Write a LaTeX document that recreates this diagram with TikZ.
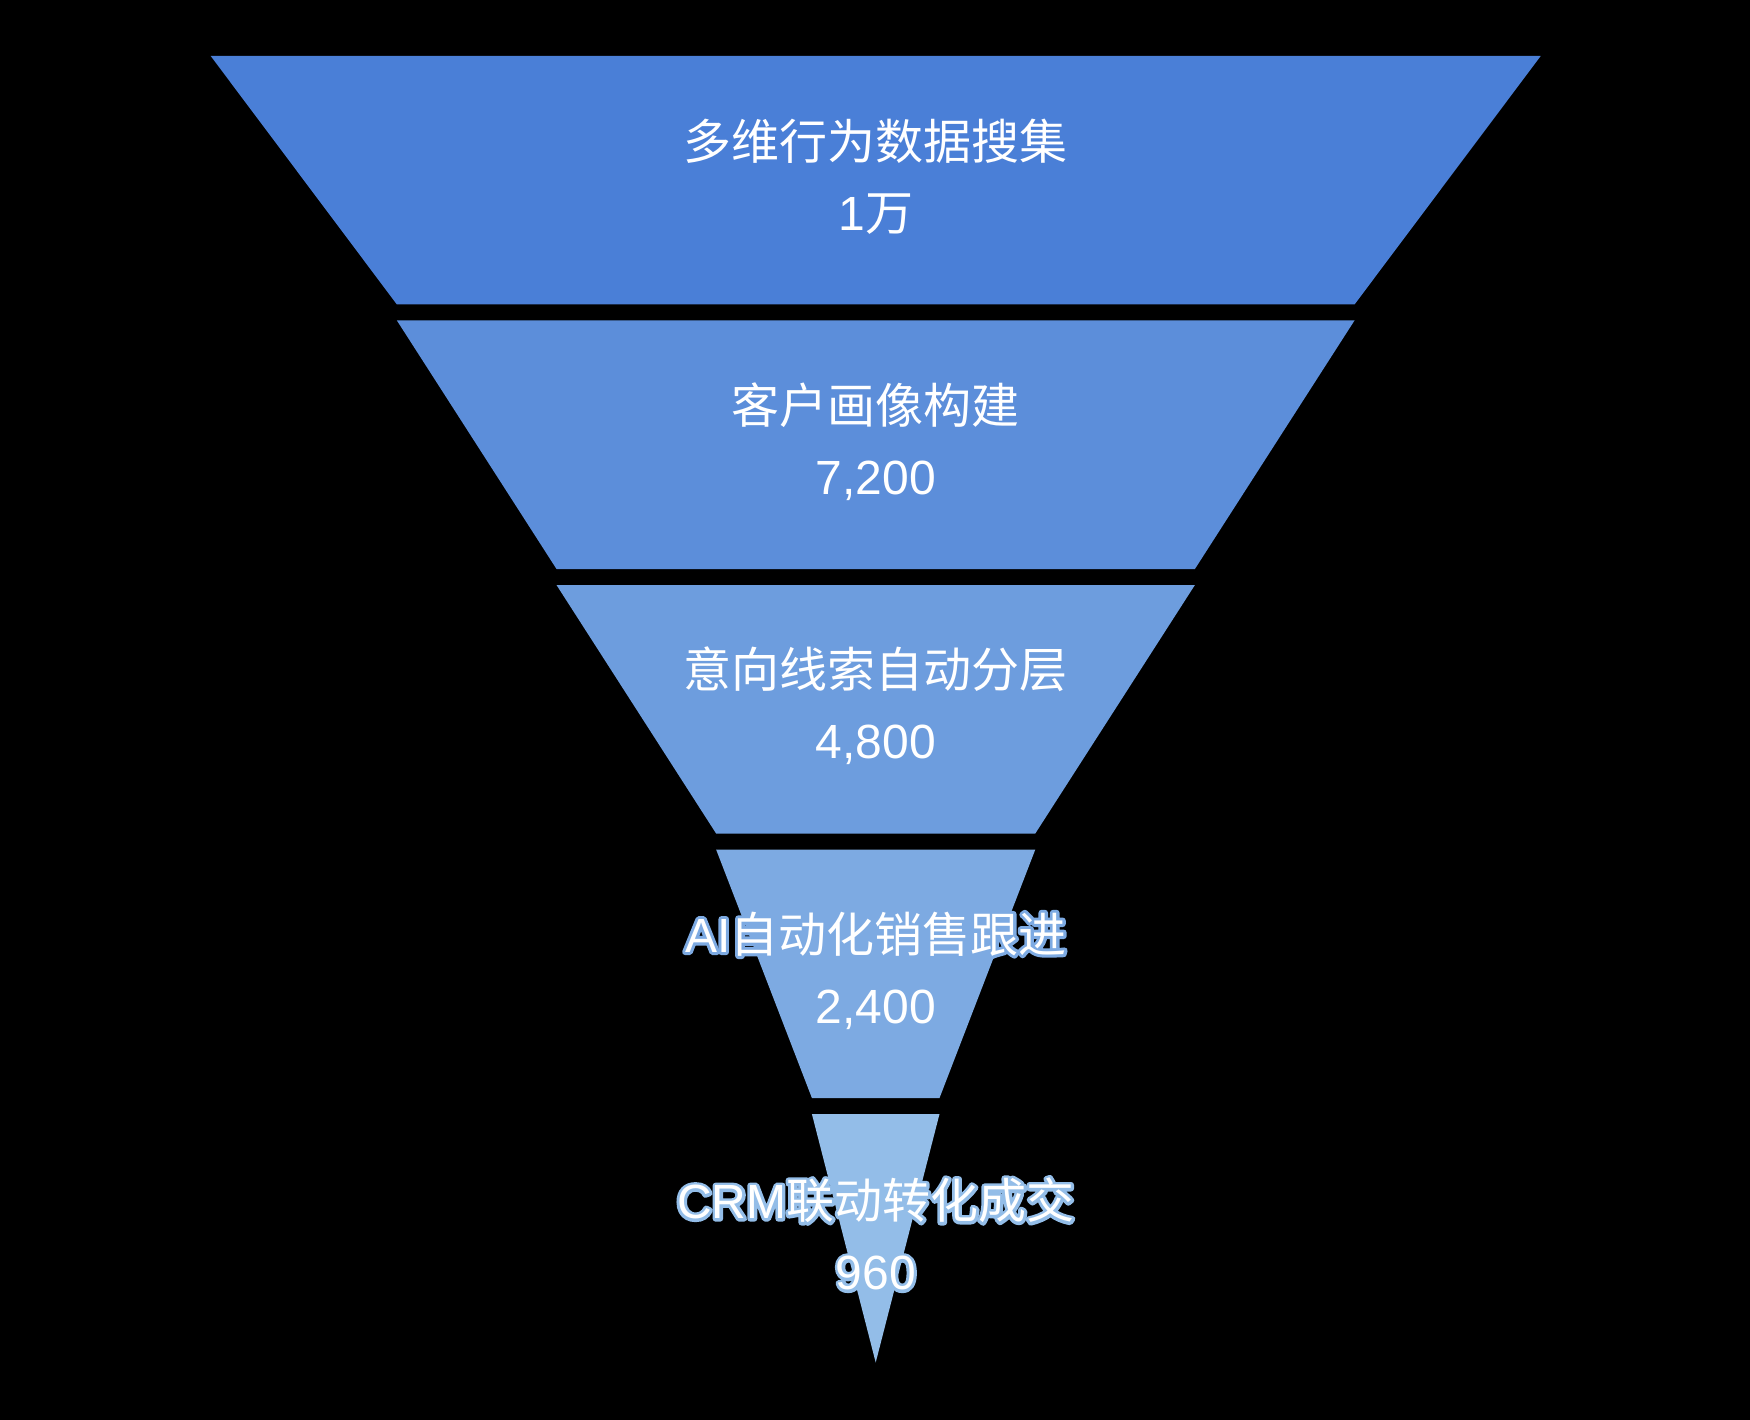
\documentclass[tikz,border=0pt]{standalone}
\usepackage{fontspec}
\setmainfont{Liberation Sans}
\newfontfamily\cjk{Noto Sans CJK SC}
\definecolor{fA}{HTML}{4A7FD7}
\definecolor{fB}{HTML}{5C8EDA}
\definecolor{fC}{HTML}{6D9DDE}
\definecolor{fD}{HTML}{7DAAE2}
\definecolor{fE}{HTML}{93BDE8}
\tikzset{
  lbl/.style={align=center, text=white, font=\fontsize{48}{71}\selectfont, inner sep=0pt},
}
\newcommand\strokeon{\special{pdf:code 2 Tr 6 w 1 j 1 J}}
\newcommand\strokeoff{\special{pdf:code 0 Tr}}
\newcommand\halolabel[4]{%
  \node[lbl,text=#3] (#1h) at (#2) {\strokeon #4\strokeoff};%
  \node[lbl] (#1) at (#2) {#4};}
\begin{document}
\begin{tikzpicture}[x=1pt,y=-1pt]
\useasboundingbox (0,0) rectangle (1750,1420);
\fill[black] (0,0) rectangle (1750,1420);
% segments
\fill[fA] (210.7,56) -- (1540.7,56) -- (1354.5,304.5) -- (396.9,304.5) -- cycle;
\fill[fB] (396.9,320.5) -- (1354.5,320.5) -- (1194.9,569) -- (556.5,569) -- cycle;
\fill[fC] (556.5,585) -- (1194.9,585) -- (1035.3,833.5) -- (716.1,833.5) -- cycle;
\fill[fD] (716.1,849.5) -- (1035.3,849.5) -- (939.5,1098) -- (811.9,1098) -- cycle;
\fill[fE] (811.9,1114) -- (939.5,1114) -- (875.7,1362.5) -- cycle;
% labels
\node[lbl] (l1) at (875.7,177) {{\cjk 多维行为数据搜集}\\1{\cjk 万}};
\node[lbl] (l2) at (875.7,442) {{\cjk 客户画像构建}\\7,200};
\node[lbl] (l3) at (875.7,706) {{\cjk 意向线索自动分层}\\4,800};
\halolabel{l4}{875.7,970.5}{fD}{AI{\cjk 自动化销售跟进}\\2,400}
\halolabel{l5}{875.7,1234}{fE}{CRM{\cjk 联动转化成交}\\960}
\end{tikzpicture}
\end{document}
